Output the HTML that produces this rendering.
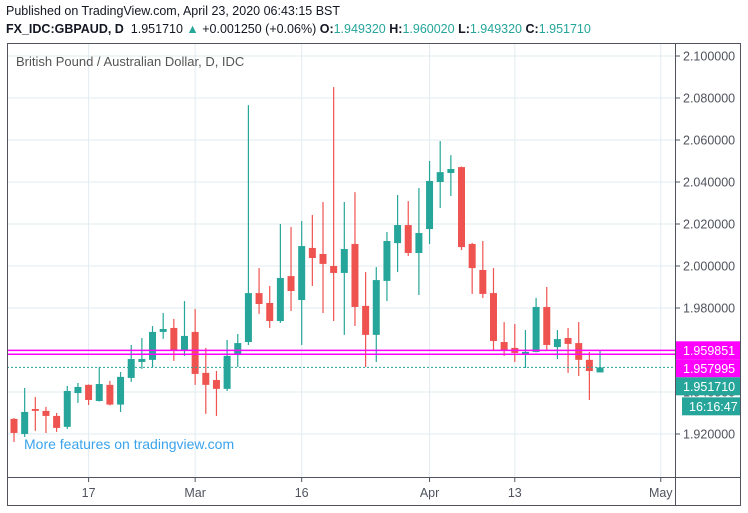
<!DOCTYPE html>
<html><head><meta charset="utf-8">
<style>
html,body{margin:0;padding:0;background:#fff;}
body{width:748px;height:513px;overflow:hidden;position:relative;font-family:"Liberation Sans",sans-serif;}
.hdr{position:absolute;left:6px;font-size:12.5px;color:#131722;white-space:nowrap;}
.g{color:#26a69a}
</style></head><body>
<div class="hdr" style="top:4px">Published on TradingView.com, April 23, 2020 06:43:15 BST</div>
<div class="hdr" style="top:22px"><b>FX_IDC:GBPAUD, D</b>&nbsp; 1.951710 <span class="g">▲</span> +0.001250 (+0.06%) <b>O:</b><span class="g">1.949320</span> <b>H:</b><span class="g">1.960020</span> <b>L:</b><span class="g">1.949320</span> <b>C:</b><span class="g">1.951710</span></div>
<svg id="chart" width="748" height="513" style="position:absolute;left:0;top:0"></svg>
<script>
const opens=[1.9338,1.9272,1.9200,1.9319,1.9310,1.9286,1.9234,1.9395,1.9434,1.9357,1.9434,1.9340,1.9467,1.9543,1.9553,1.9686,1.9705,1.9600,1.9686,1.9491,1.9457,1.9415,1.9581,1.9638,1.9871,1.9824,1.9738,1.9952,1.9838,2.0086,2.0057,2.0000,1.9967,2.0105,1.9810,1.9672,1.9929,2.0109,2.0195,2.0062,2.0176,2.0400,2.0443,2.0471,2.0105,1.9981,1.9871,1.9638,1.9610,1.9581,1.9591,1.9805,1.9614,1.9657,1.9633,1.9553,1.94932];
const highs=[1.9362,1.9276,1.9419,1.9376,1.9329,1.9300,1.9429,1.9443,1.9436,1.9519,1.9453,1.9495,1.9624,1.9657,1.9714,1.9776,1.9748,1.9833,1.9795,1.9610,1.9500,1.9648,1.9676,2.0766,1.9990,1.9905,2.0200,2.0186,2.0214,2.0243,2.0305,2.0852,2.0305,2.0352,1.9971,1.9995,2.0162,2.0338,2.0309,2.0371,2.0500,2.0595,2.0528,2.0474,2.0110,2.0119,1.9990,1.9733,1.9724,1.9695,1.9848,1.9900,1.9695,1.9705,1.9733,1.9591,1.96002];
const lows=[1.9243,1.9162,1.9186,1.9215,1.9205,1.9210,1.9224,1.9348,1.9338,1.9355,1.9336,1.9305,1.9448,1.9510,1.9519,1.9653,1.9548,1.9572,1.9434,1.9296,1.9286,1.9405,1.9519,1.9624,1.9772,1.9705,1.9729,1.9786,1.9624,1.9905,1.9776,1.9738,1.9672,1.9714,1.9519,1.9543,1.9833,1.9971,2.0048,1.9862,2.0105,2.0276,2.0333,2.0076,1.9867,1.9848,1.9600,1.9572,1.9543,1.9514,1.9589,1.9600,1.9557,1.9491,1.9476,1.9362,1.94932];
const closes=[1.9267,1.9205,1.9305,1.9310,1.9286,1.9229,1.9405,1.9424,1.9362,1.9438,1.9340,1.9472,1.9557,1.9557,1.9686,1.9700,1.9600,1.9667,1.9486,1.9434,1.9415,1.9572,1.9633,1.9871,1.9819,1.9738,1.9943,1.9881,2.0095,2.0038,2.0010,1.9967,2.0081,1.9805,1.9672,1.9933,2.0119,2.0195,2.0062,2.0157,2.0405,2.0447,2.0462,2.0090,1.9990,1.9867,1.9643,1.9600,1.9586,1.9591,1.9805,1.9624,1.9652,1.9629,1.9553,1.9500,1.95171];
const dateLabels=["17","Mar","16","Apr","13","May"];
const dateIndex=[8,18,28,40,48,61.7];
const priceTicks=[1.92,1.94,1.96,1.98,2.00,2.02,2.04,2.06,2.08,2.10];
const levelLines=[1.959851,1.957995];

const NS="http://www.w3.org/2000/svg";
const svg=document.getElementById('chart');
const L=7,R=675,T=43,B=477,OR=741,OB=506;
function yS(p){return 266-(p-2.0)*2100;}
function xS(i){return 3.35+10.655*i;}
function mk(tag,at,parent){const e=document.createElementNS(NS,tag);for(const k in at)e.setAttribute(k,at[k]);(parent||svg).appendChild(e);return e;}
const clip=mk('clipPath',{id:'pc'});mk('rect',{x:L,y:T,width:R-L,height:B-T},clip);
for(let i=0;i<priceTicks.length;i++){
  const y=yS(priceTicks[i]);
  const gl=mk('line',{x1:L,x2:R,y1:y,y2:y,stroke:'#e1ecf2','stroke-width':1});
  
  
  mk('line',{x1:R,x2:R+5,y1:y,y2:y,stroke:'#50535e'});
  const t=mk('text',{x:683,y:y+4.5,'font-size':12.5,fill:'#50535e','font-family':'Liberation Sans, sans-serif'});
  t.textContent=priceTicks[i].toFixed(6);
  
  
}
for(let i=0;i<dateLabels.length;i++){
  const x=xS(dateIndex[i]);
  const vl=mk('line',{x1:x,x2:x,y1:T,y2:B,stroke:'#e1ecf2'});
  
  
  mk('line',{x1:x,x2:x,y1:B,y2:B+5,stroke:'#50535e'});
  const t=mk('text',{x:x,y:497,'text-anchor':'middle','font-size':12.5,fill:'#50535e','font-family':'Liberation Sans, sans-serif'});
  t.textContent=dateLabels[i];
  
  
}
let w=mk('text',{x:16,y:66,'font-size':13,fill:'#555','font-family':'Liberation Sans, sans-serif'});
w.textContent='British Pound / Australian Dollar, D, IDC';


w=mk('text',{x:24,y:449,'font-size':14,fill:'#3ba3ec','font-family':'Liberation Sans, sans-serif'});
w.textContent='More features on tradingview.com';


const g=mk('g',{'clip-path':'url(#pc)'});
for(let i=0;i<opens.length;i++){
  const up=closes[i]>=opens[i];const col=up?'#26a69a':'#ef5350';
  const x=xS(i);
  const wk=mk('line',{x1:x,x2:x,y1:yS(highs[i]),y2:yS(lows[i]),stroke:col,'stroke-width':1.2},g);
  
  
  const top=yS(Math.max(opens[i],closes[i])),bot=yS(Math.min(opens[i],closes[i]));
  const b=mk('rect',{x:x-3.5,y:top,width:7,height:Math.max(1,bot-top),fill:col},g);
  
  
}
for(let i=0;i<levelLines.length;i++){
  const y=yS(levelLines[i]);
  const ll=mk('line',{x1:L,x2:R,y1:y,y2:y,stroke:'#ff00ff','stroke-width':1.5});
  
  
}
const lastY=yS(closes[closes.length-1]);
const pl=mk('line',{x1:L,x2:R,y1:lastY,y2:lastY,stroke:'#26a69a','stroke-dasharray':'2,2'});


mk('rect',{x:L+0.5,y:T+0.5,width:OR-L-1,height:OB-T-1,fill:'none',stroke:'#50535e'});
mk('line',{x1:R+0.5,x2:R+0.5,y1:T,y2:OB,stroke:'#50535e'});
mk('line',{x1:L,x2:OR,y1:B+0.5,y2:B+0.5,stroke:'#50535e'});
function lab(y,h,txt,bg,name,x0,wd){
  const r=mk('rect',{x:x0,y:y,width:wd,height:h,fill:bg});
  
  
  const t=mk('text',{x:x0+7,y:y+h/2+4.5,'font-size':12.5,fill:'#fff','font-family':'Liberation Sans, sans-serif'});
  t.textContent=txt;
}
const y1=yS(levelLines[0])-9;
lab(y1,18,levelLines[0].toFixed(6),'#ff00ff','level-label-1',R+1,OR-R-2);
lab(y1+18,18,levelLines[1].toFixed(6),'#ff00ff','level-label-2',R+1,OR-R-2);
lab(y1+36,18,closes[closes.length-1].toFixed(6),'#26a69a','last-price-label',R+1,OR-R-2);
lab(y1+56,18,'16:16:47','#26a69a','countdown-label',R+7,OR-R-8);
</script>
</body></html>
